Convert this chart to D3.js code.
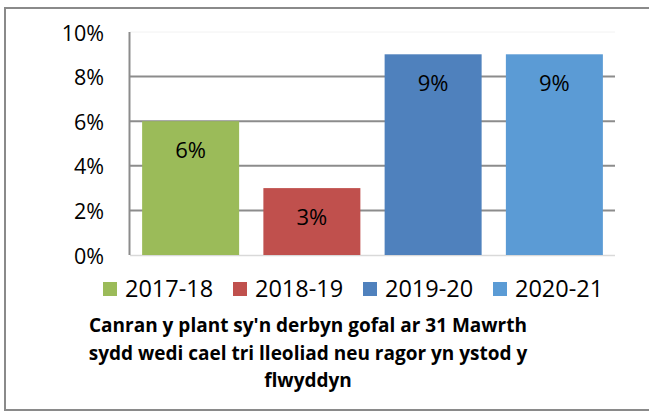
<!DOCTYPE html>
<html>
<head>
<meta charset="utf-8">
<script src="https://cdn.jsdelivr.net/npm/d3@7"></script>
<style>
  html, body { margin: 0; padding: 0; background: #fff; }
  svg { display: block; font-family: "Open Sans", sans-serif; }
</style>
</head>
<body>
<svg id="chart" width="649" height="412"></svg>
<script>
// data
const years = ['2017-18', '2018-19', '2019-20', '2020-21'];
const values = [6, 3, 9, 9];
const colors = ['#9BBB59', '#C0504D', '#4F81BD', '#5B9BD5'];
const yTicks = [0, 2, 4, 6, 8, 10];
const titleLines = [
    "Canran y plant sy'n derbyn gofal ar 31 Mawrth",
    'sydd wedi cael tri lleoliad neu ragor yn ystod y',
    'flwyddyn'
];

const svg = d3.select('#chart');

// outer frame (right/bottom run past the picture edge)
svg.append('rect')
    .attr('x', 5).attr('y', 8)
    .attr('width', 650).attr('height', 402)
    .attr('fill', 'none')
    .attr('stroke', '#8a8a8a')
    .attr('stroke-width', 2);

const plot = {left: 130, right: 615, top: 32, bottom: 255};

const x = d3.scaleBand()
    .domain(years)
    .range([plot.left, plot.right])
    .paddingInner(0.2)
    .paddingOuter(0.1);

const y = d3.scaleLinear()
    .domain([0, 10])
    .range([plot.bottom, plot.top]);

// gridlines
svg.append('g')
    .selectAll('line')
    .data(yTicks.filter(t => t > 0))
    .enter()
    .append('line')
    .attr('x1', plot.left).attr('x2', plot.right)
    .attr('y1', d => y(d)).attr('y2', d => y(d))
    .attr('stroke', d => d === 10 ? '#f2f2f2' : '#8c8c8c')
    .attr('stroke-width', d => d === 10 ? 1 : 2);

// baseline
svg.append('line')
    .attr('x1', plot.left).attr('x2', plot.right)
    .attr('y1', y(0) + 0.5).attr('y2', y(0) + 0.5)
    .attr('stroke', '#d9d9d9')
    .attr('stroke-width', 1.5);

// y axis line
svg.append('line')
    .attr('x1', plot.left - 0.5).attr('x2', plot.left - 0.5)
    .attr('y1', plot.top).attr('y2', plot.bottom)
    .attr('stroke', '#8c8c8c')
    .attr('stroke-width', 2);

// tick labels
svg.append('g')
    .selectAll('text')
    .data(yTicks)
    .enter()
    .append('text')
    .attr('x', 104)
    .attr('y', d => y(d) + 8.5)
    .attr('text-anchor', 'end')
    .attr('font-size', 21.5)
    .attr('fill', '#000')
    .text(d => d + '%');

// bars
svg.append('g')
    .selectAll('rect')
    .data(years)
    .enter()
    .append('rect')
    .attr('x', d => x(d))
    .attr('y', (d, i) => y(values[i]))
    .attr('width', x.bandwidth())
    .attr('height', (d, i) => y(0) - y(values[i]))
    .attr('fill', (d, i) => colors[i]);

// data labels
svg.append('g')
    .selectAll('text')
    .data(years)
    .enter()
    .append('text')
    .attr('x', d => x(d) + x.bandwidth() / 2)
    .attr('y', (d, i) => y(values[i]) + 37)
    .attr('text-anchor', 'middle')
    .attr('font-size', 22)
    .attr('fill', '#000')
    .text((d, i) => values[i] + '%');

// legend
const legend = svg.append('g')
    .selectAll('g')
    .data(years)
    .enter()
    .append('g')
    .attr('transform', (d, i) => `translate(${103 + i * 130},282)`);

legend.append('rect')
    .attr('width', 14).attr('height', 14)
    .attr('fill', (d, i) => colors[i]);

legend.append('text')
    .attr('x', 22)
    .attr('y', 15)
    .attr('font-size', 23.5)
    .attr('fill', '#000')
    .text(d => d);

// title under the legend
svg.append('g')
    .selectAll('text')
    .data(titleLines)
    .enter()
    .append('text')
    .attr('x', 308)
    .attr('y', (d, i) => 332 + i * 27.5)
    .attr('text-anchor', 'middle')
    .attr('font-size', 19)
    .attr('font-weight', 'bold')
    .attr('fill', '#000')
    .text(d => d);
</script>
</body>
</html>
